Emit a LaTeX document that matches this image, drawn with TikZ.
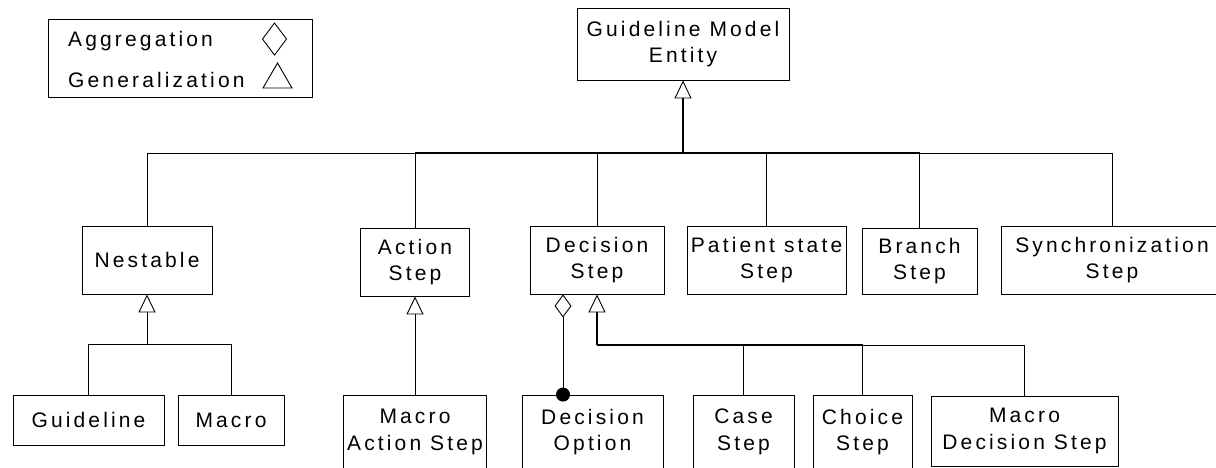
\documentclass[tikz,border=0pt]{standalone}
\usepackage{fontspec}
\setmainfont{Liberation Sans}[LetterSpace=15]
\usepackage{tikz}
\usetikzlibrary{arrows.meta,positioning}
\tikzset{
    cls/.style={
    rectangle,draw=black,line width=0.9pt,align=center,inner sep=0pt
    },
    link/.style={draw, line width=0.9pt},
    trunk/.style={draw, line width=1.6pt},
    gen/.style={draw, line width=0.9pt, -{Triangle[open,length=18pt,width=17pt,line width=0.9pt]}},
    agg/.style={draw, line width=0.9pt, {Diamond[open,length=23pt,width=17pt,line width=0.9pt]}-{Circle[length=14pt]}, shorten >=-7pt}
}

\begin{document}
\begin{tikzpicture}[x=1pt,y=-1pt,font=\fontsize{21}{26.5}\selectfont]
    \useasboundingbox (0,0) rectangle (1216,467);

    % legend
    \node[draw=black,line width=0.9pt,minimum width=264pt,minimum height=78pt,inner sep=0pt] (legend) at (180,58) {};
    \node[anchor=base west,inner sep=0pt] (aggtxt) at (68,46) {Aggregation};
    \node[anchor=base west,inner sep=0pt] (gentxt) at (68,87) {Generalization};
    \draw[line width=0.9pt] (274.5,23) -- (286.5,39) -- (274.5,55) -- (262.5,39) -- cycle;
    \draw[line width=0.9pt] (277.5,63) -- (292,88) -- (263,88) -- cycle;

    % classes
    \node[cls,minimum width=212pt,minimum height=72pt] (gme) at (683,44) {Guideline Model\\Entity};

    \node[cls,minimum width=130pt,minimum height=68pt] (nest) at (147,260) {Nestable};
    \node[cls,minimum width=109pt,minimum height=68pt] (act) at (415,262) {Action\\Step};
    \node[cls,minimum width=134pt,minimum height=68pt] (dec) at (597,260) {Decision\\Step};
    \node[cls,minimum width=159pt,minimum height=68pt] (pat) at (766.5,260) {Patient state\\Step};
    \node[cls,minimum width=115pt,minimum height=66pt] (bra) at (919.5,261) {Branch\\Step};
    \node[cls,minimum width=222pt,minimum height=68pt] (syn) at (1112,260) {Synchronization\\Step};

    \node[cls,minimum width=151pt,minimum height=50pt] (gdl) at (88.5,420) {Guideline};
    \node[cls,minimum width=106pt,minimum height=50pt] (mac) at (231,420) {Macro};
    \node[cls,minimum width=143pt,minimum height=74pt] (mas) at (415,432) {Macro\\Action Step};
    \node[cls,minimum width=141pt,minimum height=74pt] (opt) at (592.5,432) {Decision\\Option};
    \node[cls,minimum width=101pt,minimum height=74pt] (case) at (743.5,432) {Case\\Step};
    \node[cls,minimum width=99pt,minimum height=74pt] (cho) at (862.5,432) {Choice\\Step};
    \node[cls,minimum width=187pt,minimum height=70pt] (mds) at (1024.5,431) {Macro\\Decision Step};

    \coordinate (bus) at (683,153);
    \coordinate (nbus) at (147,344);
    \coordinate (dbus) at (597,345);

    % generalization
    \draw[link] (nest.north) |- (bus);
    \draw[link] (act.north) |- (bus);
    \draw[link] (dec.north) |- (bus);
    \draw[link] (pat.north) |- (bus);
    \draw[link] (bra.north) |- (bus);
    \draw[link] (syn.north) |- (bus);
    \draw[trunk] (act.north |- bus) -- (bra.north |- bus);
    \draw[gen,line width=1.6pt] (bus) -- (gme.south);

    \draw[link] (gdl.north) |- (nbus);
    \draw[link] (mac.north) |- (nbus);
    \draw[gen] (nbus) -- (nest.south);

    \draw[gen] (mas.north) -- (act.south);

    \draw[link] (case.north) |- (dbus);
    \draw[link] (cho.north) |- (dbus);
    \draw[link] (mds.north) |- (dbus);
    \draw[trunk] (dbus) -- (cho.north |- dbus);
    \draw[gen,line width=1.6pt] (dbus) -- (dec.south);

    % aggregation
    \draw[agg] ([xshift=-34pt]dec.south) -- ([xshift=-34pt]dec.south |- opt.north);
\end{tikzpicture}
\end{document}
